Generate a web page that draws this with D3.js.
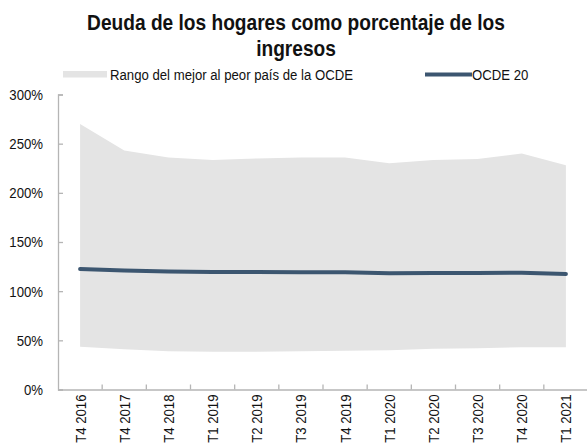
<!DOCTYPE html>
<html>
<head>
<meta charset="utf-8">
<script src="https://cdn.jsdelivr.net/npm/d3@7"></script>
<style>
  html, body { margin: 0; padding: 0; background: #fff; }
  svg { display: block; font-family: "Liberation Sans", Arial, sans-serif; }
</style>
</head>
<body>
<svg id="chart"></svg>
<script>
"use strict";

// data
const categories = ["T4 2016", "T4 2017", "T4 2018", "T1 2019", "T2 2019", "T3 2019",
  "T4 2019", "T1 2020", "T2 2020", "T3 2020", "T4 2020", "T1 2021"];
const rangeMax = [270, 243, 236, 233.5, 235, 236, 236, 230, 233.5, 234.5, 240, 228];
const rangeMin = [43.5, 41, 39, 38.5, 38.5, 39, 39.5, 40, 41.5, 42, 43, 43];
const ocde20 = [122.5, 121, 120, 119.5, 119.5, 119.2, 119.2, 118.2, 118.5, 118.5, 118.8, 117.5];
const yTicks = [0, 50, 100, 150, 200, 250, 300];

const titleLines = ["Deuda de los hogares como porcentaje de los", "ingresos"];
const legendRange = "Rango del mejor al peor país de la OCDE";
const legendLine = "OCDE 20";

const width = 587, height = 444;
const axisColor = "#b5b5b5";
const textColor = "#111";
const lineColor = "#3c5670";
const bandColor = "#e4e4e4";
// the original font is a narrow one; squeeze the glyphs along the text direction
const narrow = 0.85;

const svg = d3.select("#chart")
  .attr("width", width)
  .attr("height", height);

const rows = categories.map((c, i) => ({ cat: c, lo: rangeMin[i], hi: rangeMax[i], v: ocde20[i] }));

const x = d3.scaleBand().domain(categories).range([58, 588]);
const y = d3.scaleLinear().domain([0, 300]).range([389.5, 94.5]);
const cx = (d) => x(d.cat) + x.bandwidth() / 2;

// range band
svg.append("path")
  .datum(rows)
  .attr("fill", bandColor)
  .attr("d", d3.area().x(cx).y0((d) => y(d.lo)).y1((d) => y(d.hi)));

// y axis, ticks point inwards
const yAxis = svg.append("g")
  .attr("transform", `translate(${x.range()[0]},0)`)
  .call(d3.axisLeft(y).tickValues(yTicks).tickSize(-5).tickPadding(15)
    .tickFormat((d) => d + "%"));
yAxis.select(".domain").attr("stroke", axisColor).attr("stroke-width", 1.3);
yAxis.selectAll(".tick line").attr("stroke", axisColor).attr("stroke-width", 1.3);
yAxis.selectAll("text")
  .attr("font-size", 15.5).attr("fill", textColor).attr("font-family", null)
  .attr("x", 0)
  .attr("transform", `translate(-15,0) scale(${narrow},1)`);

// x axis: labels at centres, ticks at boundaries
const xAxis = svg.append("g")
  .attr("transform", `translate(0,${y(0)})`)
  .call(d3.axisBottom(x).tickSize(0).tickSizeOuter(0));
xAxis.select(".domain").attr("stroke", axisColor).attr("stroke-width", 1.3);
xAxis.selectAll("text")
  .attr("font-size", 15.5).attr("fill", textColor).attr("font-family", null)
  .attr("x", 0).attr("y", 0).attr("dy", "0.35em")
  .attr("transform", `translate(0,5) rotate(-90) scale(${narrow},1)`)
  .style("text-anchor", "end");
xAxis.selectAll(".bound")
  .data(categories.slice(1))
  .join("line")
  .attr("class", "bound")
  .attr("x1", (c) => x(c)).attr("x2", (c) => x(c))
  .attr("y1", 0).attr("y2", -5)
  .attr("stroke", axisColor).attr("stroke-width", 1.3);

// OCDE 20 line
svg.append("path")
  .datum(rows)
  .attr("fill", "none")
  .attr("stroke", lineColor)
  .attr("stroke-width", 4)
  .attr("stroke-linecap", "round")
  .attr("d", d3.line().x(cx).y((d) => y(d.v)));

// title
svg.append("g").selectAll("text")
  .data(titleLines)
  .join("text")
  .attr("transform", (d, i) => `translate(296,${30 + i * 26}) scale(0.87,1)`)
  .attr("text-anchor", "middle")
  .attr("font-size", 22)
  .attr("font-weight", "bold")
  .attr("fill", textColor)
  .text((d) => d);

// legend
const legend = svg.append("g").attr("font-size", 15.5).attr("fill", textColor);
legend.append("rect")
  .attr("x", 63).attr("y", 71).attr("width", 44).attr("height", 6.5)
  .attr("fill", bandColor);
legend.append("text")
  .attr("transform", `translate(110,80) scale(${narrow},1)`)
  .text(legendRange);
legend.append("line")
  .attr("x1", 425).attr("x2", 472).attr("y1", 74.5).attr("y2", 74.5)
  .attr("stroke", lineColor).attr("stroke-width", 4);
legend.append("text")
  .attr("transform", `translate(472,80) scale(${narrow},1)`)
  .text(legendLine);
</script>
</body>
</html>
